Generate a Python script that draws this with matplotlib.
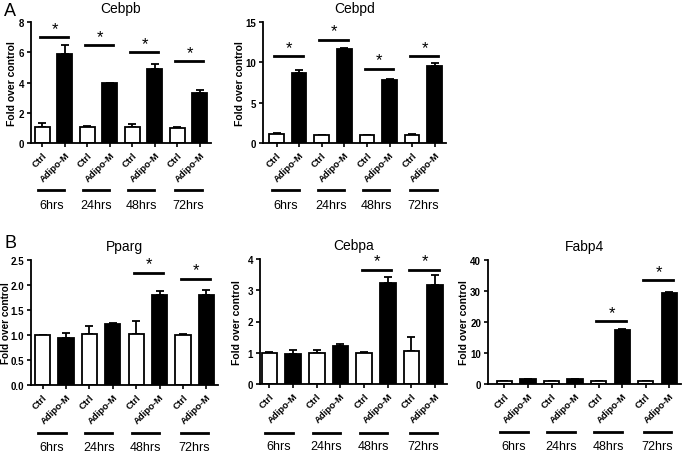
import numpy as np
import matplotlib.pyplot as plt
import matplotlib.transforms as mtransforms

plt.rcParams['font.family'] = ['Liberation Sans', 'DejaVu Sans']

# Dados
grupos = ["Ctrl", "Adipo-M"] * 4
tempos = ["6hrs", "24hrs", "48hrs", "72hrs"]

cebpb_media = [1.05, 5.9, 1.05, 3.95, 1.08, 4.9, 1.0, 3.3]
cebpb_erro = [0.25, 0.55, 0.05, 0.03, 0.15, 0.32, 0.03, 0.22]
cebpb_sig = [7.0, 6.45, 6.0, 5.4]

cebpd_media = [1.1, 8.7, 1.0, 11.7, 1.0, 7.8, 1.05, 9.5]
cebpd_erro = [0.12, 0.4, 0.02, 0.1, 0.03, 0.15, 0.05, 0.4]
cebpd_sig = [10.75, 12.8, 9.2, 10.75]

pparg_media = [1.0, 0.95, 1.02, 1.22, 1.02, 1.8, 1.0, 1.8]
pparg_erro = [0.01, 0.1, 0.17, 0.03, 0.27, 0.09, 0.02, 0.1]
pparg_sig = [None, None, 2.24, 2.12]

cebpa_media = [1.0, 0.95, 1.0, 1.22, 1.0, 3.22, 1.05, 3.17]
cebpa_erro = [0.04, 0.15, 0.1, 0.06, 0.01, 0.2, 0.45, 0.33]
cebpa_sig = [None, None, 3.65, 3.65]

fabp4_media = [1.0, 1.5, 1.0, 1.6, 1.0, 17.5, 1.0, 29.4]
fabp4_erro = [0.05, 0.1, 0.05, 0.1, 0.05, 0.3, 0.05, 0.2]
fabp4_sig = [None, None, 20.2, 33.5]

W, H = 682, 456
fig = plt.figure(figsize=(W / 100, H / 100), dpi=100)


def eixo(l, t, r, b):
    return fig.add_axes([l / W, 1 - b / H, (r - l) / W, (b - t) / H])


def painel(ax, titulo, media, erro, sig, ylim, yticks, fmt, xmin, xmax,
           y_linha, y_texto, x_rotulo, tam_rotulo=7.5):
    x = np.arange(8)
    cores = ["white", "black"] * 4
    ax.bar(x, media, width=0.65, color=cores, edgecolor="black", linewidth=1.3, zorder=2)
    ax.errorbar(x, media, yerr=[np.zeros(8), erro], fmt="none", ecolor="black",
                elinewidth=1.3, capsize=3, capthick=1.3, zorder=1)
    for i, s in enumerate(sig):
        if s is None:
            continue
        x0 = 2 * i
        ax.plot([x0 - 0.1, x0 + 1.15], [s, s], color="black", lw=2, clip_on=False)
        ax.text(x0 + 0.55, s + (ylim[1] - ylim[0]) * 0.012, "*", ha="center", va="bottom",
                fontsize=12, clip_on=False)
    ax.set_xlim(xmin, xmax)
    ax.set_ylim(*ylim)
    ax.set_yticks(yticks)
    ax.set_yticklabels([fmt.format(v) for v in yticks], fontsize=7, fontweight="bold")
    ax.set_xticks(x)
    ax.set_xticklabels(grupos, rotation=45, ha="right", rotation_mode="anchor",
                       fontsize=6.8, fontweight="bold")
    ax.tick_params(axis="both", length=3, width=1.2, pad=2)
    ax.set_ylabel("Fold over control", fontsize=tam_rotulo, fontweight="bold")
    # borda direita do rótulo y em pixels da figura
    l = ax.get_position().x0 * W
    w = ax.get_position().width * W
    ax.yaxis.set_label_coords((x_rotulo - l) / w, 0.5)
    ax.set_title(titulo, fontsize=10, pad=7)
    for lado in ["top", "right"]:
        ax.spines[lado].set_visible(False)
    for lado in ["left", "bottom"]:
        ax.spines[lado].set_linewidth(1.3)
    # linhas e rótulos de tempo abaixo do eixo
    trans = mtransforms.blended_transform_factory(ax.transData, ax.transAxes)
    centros = [0.4, 2.4, 4.4, 6.5]
    for c, t in zip(centros, tempos):
        ax.plot([c - 0.58, c + 0.58], [y_linha, y_linha], color="black", lw=2,
                transform=trans, clip_on=False)
        ax.text(c, y_texto, t, ha="center", va="center", fontsize=9, transform=trans)


ax1 = eixo(31, 23, 211, 144)
painel(ax1, "Cebpb", cebpb_media, cebpb_erro, cebpb_sig, (0, 8), [0, 2, 4, 6, 8], "{:g}",
       -0.5, 7.5, -0.39, -0.51, 17)
ax2 = eixo(263, 23, 446, 144)
painel(ax2, "Cebpd", cebpd_media, cebpd_erro, cebpd_sig, (0, 15), [0, 5, 10, 15], "{:g}",
       -0.6, 7.5, -0.39, -0.51, 245)
ax3 = eixo(31, 261, 218, 386)
painel(ax3, "Pparg", pparg_media, pparg_erro, pparg_sig, (0, 2.5),
       [0, 0.5, 1.0, 1.5, 2.0, 2.5], "{:.1f}", -0.5, 7.5, -0.384, -0.5, 11, 7.2)
ax4 = eixo(260, 260, 447, 385)
painel(ax4, "Cebpa", cebpa_media, cebpa_erro, cebpa_sig, (0, 4), [0, 1, 2, 3, 4], "{:g}",
       -0.4, 7.5, -0.39, -0.5, 242)
ax5 = eixo(488, 261, 681, 385)
painel(ax5, "Fabp4", fabp4_media, fabp4_erro, fabp4_sig, (0, 40), [0, 10, 20, 30, 40], "{:g}",
       -0.7, 7.5, -0.39, -0.5, 469)

fig.text(4 / W, 1 - 12 / H, "A", fontsize=13, va="center")
fig.text(4 / W, 1 - 243 / H, "B", fontsize=13, va="center")

fig.savefig("out.png", dpi=100)
